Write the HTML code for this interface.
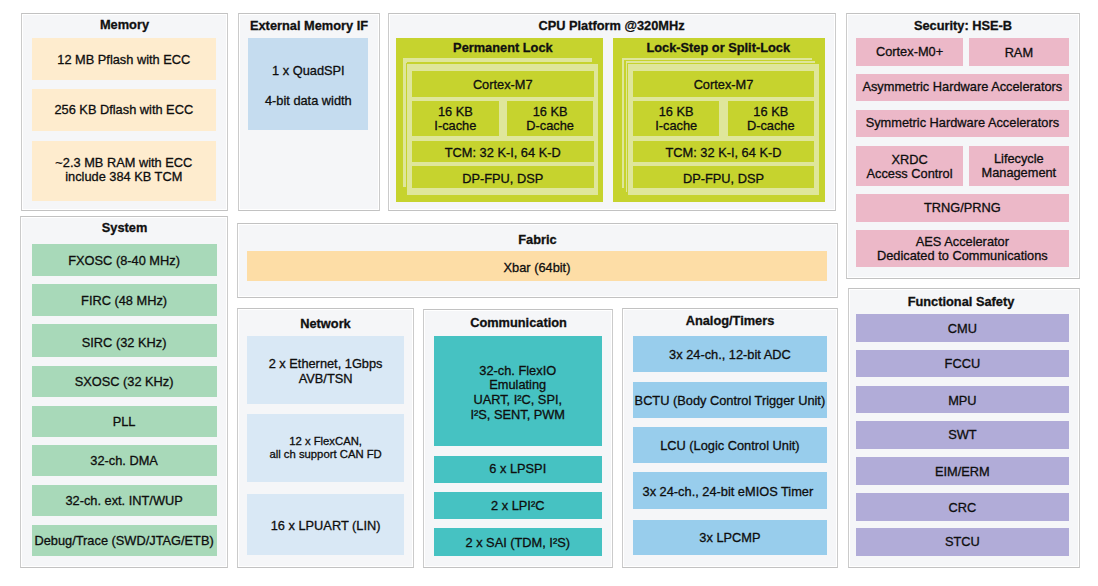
<!DOCTYPE html>
<html><head><meta charset="utf-8"><style>
html,body{margin:0;padding:0;background:#fff;}
body{width:1098px;height:586px;position:relative;overflow:hidden;font-family:"Liberation Sans",sans-serif;color:#0e0e0e;-webkit-text-stroke:0.3px #0e0e0e;}
.p{position:absolute;box-sizing:border-box;background:#f5f6f8;border:1px solid #c2c2c2;border-left-color:#cbcbcb;border-right-color:#cbcbcb;box-shadow:inset 0 0 0 1px #fff;}
.b{position:absolute;display:flex;align-items:center;justify-content:center;text-align:center;font-size:12.8px;line-height:15px;}
.t{position:absolute;text-align:center;font-weight:bold;color:#111;white-space:nowrap;}
.l{position:absolute;text-align:center;white-space:nowrap;}
.c{position:absolute;box-sizing:border-box;}
.c2{position:absolute;}
</style></head><body>
<div class="p" style="left:21px;top:13px;width:207px;height:198px"></div>
<div class="p" style="left:238px;top:13px;width:142px;height:198px"></div>
<div class="p" style="left:388px;top:13px;width:448px;height:198px"></div>
<div class="p" style="left:846px;top:13px;width:234px;height:266px"></div>
<div class="p" style="left:20px;top:216px;width:208px;height:352px"></div>
<div class="p" style="left:237px;top:223px;width:601px;height:75px"></div>
<div class="p" style="left:237px;top:308px;width:177px;height:260px"></div>
<div class="p" style="left:423px;top:309px;width:190px;height:259px"></div>
<div class="p" style="left:622px;top:308px;width:216px;height:260px"></div>
<div class="p" style="left:848px;top:288px;width:232px;height:280px"></div>
<div class="t" style="left:21.00px;top:15.30px;width:207px;height:20px;line-height:20px;font-size:12.8px">Memory</div>
<div class="b" style="left:31.9px;top:38.2px;width:183.80px;height:41.60px;background:#feecce"><span style="position:relative;top:0.60px;left:0.00px">12 MB Pflash with ECC</span></div>
<div class="b" style="left:31.9px;top:89.0px;width:183.80px;height:41.80px;background:#feecce"><span style="position:relative;top:-0.40px;left:0.00px">256 KB Dflash with ECC</span></div>
<div class="b" style="left:31.9px;top:141.3px;width:183.80px;height:60.00px;background:#feecce;line-height:14.4px"><span style="position:relative;top:-1.00px;left:0.00px">~2.3 MB RAM with ECC<br>include 384 KB TCM</span></div>
<div class="t" style="left:238.00px;top:16.30px;width:142px;height:20px;line-height:20px;font-size:12.8px">External Memory IF</div>
<div class="b" style="left:248.3px;top:38.2px;width:120.10px;height:92.30px;background:#c5dcef"><span style="position:relative;top:0.60px;left:0.00px"></span></div>
<div class="l" style="left:248.30px;top:60.50px;width:120.09999999999997px;height:20px;line-height:20px;font-size:12.8px">1 x QuadSPI</div>
<div class="l" style="left:248.30px;top:90.50px;width:120.09999999999997px;height:20px;line-height:20px;font-size:12.8px">4-bit data width</div>
<div class="t" style="left:388.00px;top:16.00px;width:447px;height:20px;line-height:20px;font-size:12.8px">CPU Platform @320MHz</div>
<div class="b" style="left:396.3px;top:38.2px;width:207.20px;height:163.60px;background:#c6d32e"><span style="position:relative;top:0.60px;left:0.00px"></span></div>
<div class="t" style="left:399.30px;top:37.50px;width:207.2px;height:20px;line-height:20px;font-size:12.8px">Permanent Lock</div>
<div class="c" style="left:403.2px;top:58.2px;width:189.00px;height:129.30px;border-top:4.0px solid #dfe69b;border-left:4.0px solid #dfe69b"></div>
<div class="b" style="left:613.2px;top:38.2px;width:212.10px;height:163.60px;background:#c6d32e"><span style="position:relative;top:0.60px;left:0.00px"></span></div>
<div class="t" style="left:612.20px;top:37.50px;width:212.0999999999999px;height:20px;line-height:20px;font-size:12.8px">Lock-Step or Split-Lock</div>
<div class="c" style="left:621.9px;top:57.9px;width:189.90px;height:130.00px;border-top:2.1px solid #dfe69b;border-left:2.1px solid #dfe69b"></div>
<div class="c" style="left:625.5px;top:61.1px;width:189.40px;height:130.90px;border-top:2.1px solid #dfe69b;border-left:2.1px solid #dfe69b"></div>
<div class="c2" style="left:406.4px;top:63.00px;width:192.70px;height:133.00px;background:#dfe69b;border:1.6px solid #c6d32e;box-sizing:border-box"></div>
<div class="b" style="left:412.0px;top:70.8px;width:181.50px;height:25.90px;background:#c6d32e"><span style="position:relative;top:0.60px;left:0.00px">Cortex-M7</span></div>
<div class="b" style="left:412.0px;top:101.2px;width:86.65px;height:34.40px;background:#c6d32e;line-height:14.4px"><span style="position:relative;top:1.00px;left:0.00px">16 KB<br>I-cache</span></div>
<div class="b" style="left:506.85px;top:101.2px;width:86.65px;height:34.40px;background:#c6d32e;line-height:14.4px"><span style="position:relative;top:1.00px;left:0.00px">16 KB<br>D-cache</span></div>
<div class="b" style="left:412.0px;top:140.5px;width:181.50px;height:21.50px;background:#c6d32e"><span style="position:relative;top:1.60px;left:0.00px">TCM: 32 K-I, 64 K-D</span></div>
<div class="b" style="left:412.0px;top:166.2px;width:181.50px;height:22.00px;background:#c6d32e"><span style="position:relative;top:1.60px;left:0.00px">DP-FPU, DSP</span></div>
<div class="c2" style="left:627.4px;top:63.00px;width:192.20px;height:133.00px;background:#dfe69b;border:1.6px solid #c6d32e;box-sizing:border-box"></div>
<div class="b" style="left:633.0px;top:70.8px;width:181.00px;height:25.90px;background:#c6d32e"><span style="position:relative;top:0.60px;left:0.00px">Cortex-M7</span></div>
<div class="b" style="left:633.0px;top:101.2px;width:86.40px;height:34.40px;background:#c6d32e;line-height:14.4px"><span style="position:relative;top:1.00px;left:0.00px">16 KB<br>I-cache</span></div>
<div class="b" style="left:727.6px;top:101.2px;width:86.40px;height:34.40px;background:#c6d32e;line-height:14.4px"><span style="position:relative;top:1.00px;left:0.00px">16 KB<br>D-cache</span></div>
<div class="b" style="left:633.0px;top:140.5px;width:181.00px;height:21.50px;background:#c6d32e"><span style="position:relative;top:1.60px;left:0.00px">TCM: 32 K-I, 64 K-D</span></div>
<div class="b" style="left:633.0px;top:166.2px;width:181.00px;height:22.00px;background:#c6d32e"><span style="position:relative;top:1.60px;left:0.00px">DP-FPU, DSP</span></div>
<div class="t" style="left:846.00px;top:16.10px;width:234px;height:20px;line-height:20px;font-size:12.8px">Security: HSE-B</div>
<div class="b" style="left:856.1px;top:38.1px;width:106.90px;height:27.80px;background:#ecb8c8"><span style="position:relative;top:-0.40px;left:0.00px">Cortex-M0+</span></div>
<div class="b" style="left:969.1px;top:38.1px;width:99.50px;height:27.80px;background:#ecb8c8"><span style="position:relative;top:0.60px;left:0.00px">RAM</span></div>
<div class="b" style="left:856.1px;top:73.7px;width:212.50px;height:27.60px;background:#ecb8c8"><span style="position:relative;top:-1.40px;left:0.00px">Asymmetric Hardware Accelerators</span></div>
<div class="b" style="left:856.1px;top:109.8px;width:212.50px;height:27.40px;background:#ecb8c8"><span style="position:relative;top:-1.40px;left:0.00px">Symmetric Hardware Accelerators</span></div>
<div class="b" style="left:856.1px;top:145.9px;width:106.90px;height:40.50px;background:#ecb8c8;line-height:14.4px"><span style="position:relative;top:1.00px;left:0.00px">XRDC<br>Access Control</span></div>
<div class="b" style="left:969.1px;top:145.9px;width:99.50px;height:40.50px;background:#ecb8c8;line-height:14.4px">Lifecycle<br>Management</div>
<div class="b" style="left:856.1px;top:194.2px;width:212.50px;height:27.60px;background:#ecb8c8"><span style="position:relative;top:-0.40px;left:0.00px">TRNG/PRNG</span></div>
<div class="b" style="left:856.1px;top:229.6px;width:212.50px;height:37.60px;background:#ecb8c8;line-height:14.4px"><span style="position:relative;top:1.00px;left:0.00px">AES Accelerator<br>Dedicated to Communications</span></div>
<div class="t" style="left:21.00px;top:218.20px;width:207px;height:20px;line-height:20px;font-size:12.8px">System</div>
<div class="b" style="left:31.5px;top:244.4px;width:185.20px;height:31.30px;background:#a8d9b9"><span style="position:relative;top:0.60px;left:0.00px">FXOSC (8-40 MHz)</span></div>
<div class="b" style="left:31.5px;top:284px;width:185.20px;height:31.50px;background:#a8d9b9"><span style="position:relative;top:0.60px;left:0.00px">FIRC (48 MHz)</span></div>
<div class="b" style="left:31.5px;top:324px;width:185.20px;height:33.00px;background:#a8d9b9"><span style="position:relative;top:1.60px;left:0.00px">SIRC (32 KHz)</span></div>
<div class="b" style="left:31.5px;top:366px;width:185.20px;height:31.00px;background:#a8d9b9"><span style="position:relative;top:-0.40px;left:0.00px">SXOSC (32 KHz)</span></div>
<div class="b" style="left:31.5px;top:406px;width:185.20px;height:31.20px;background:#a8d9b9"><span style="position:relative;top:-0.40px;left:0.00px">PLL</span></div>
<div class="b" style="left:31.5px;top:445.2px;width:185.20px;height:31.00px;background:#a8d9b9"><span style="position:relative;top:-0.40px;left:0.00px">32-ch. DMA</span></div>
<div class="b" style="left:31.5px;top:485px;width:185.20px;height:31.00px;background:#a8d9b9"><span style="position:relative;top:-0.40px;left:0.00px">32-ch. ext. INT/WUP</span></div>
<div class="b" style="left:31.5px;top:524.7px;width:185.20px;height:31.30px;background:#a8d9b9"><span style="position:relative;top:0.60px;left:0.00px">Debug/Trace (SWD/JTAG/ETB)</span></div>
<div class="t" style="left:237.00px;top:230.30px;width:601px;height:20px;line-height:20px;font-size:12.8px">Fabric</div>
<div class="b" style="left:246.9px;top:250.8px;width:580.20px;height:30.20px;background:#fddda6"><span style="position:relative;top:1.60px;left:0.00px">Xbar (64bit)</span></div>
<div class="t" style="left:237.00px;top:314.20px;width:177px;height:20px;line-height:20px;font-size:12.8px">Network</div>
<div class="b" style="left:246.9px;top:335.7px;width:157.40px;height:68.30px;background:#d9e8f5;line-height:14.4px"><span style="position:relative;top:2.00px;left:0.00px">2 x Ethernet, 1Gbps<br>AVB/TSN</span></div>
<div class="b" style="left:246.9px;top:413.7px;width:157.40px;height:68.80px;background:#d9e8f5;font-size:11.3px;line-height:13.3px">12 x FlexCAN,<br>all ch support CAN FD</div>
<div class="b" style="left:246.9px;top:494.3px;width:157.40px;height:60.40px;background:#d9e8f5"><span style="position:relative;top:0.60px;left:0.00px">16 x LPUART (LIN)</span></div>
<div class="t" style="left:424.00px;top:313.30px;width:189px;height:20px;line-height:20px;font-size:12.8px">Communication</div>
<div class="b" style="left:433.7px;top:336.1px;width:168.10px;height:109.80px;background:#46c2c2;line-height:14.6px"><span style="position:relative;top:2.00px;left:0.00px">32-ch. FlexIO<br>Emulating<br>UART, I&sup2;C, SPI,<br>I&sup2;S, SENT, PWM</span></div>
<div class="b" style="left:433.7px;top:455.5px;width:168.10px;height:27.30px;background:#46c2c2"><span style="position:relative;top:-0.40px;left:0.00px">6 x LPSPI</span></div>
<div class="b" style="left:433.7px;top:492.4px;width:168.10px;height:26.70px;background:#46c2c2"><span style="position:relative;top:-0.40px;left:0.00px">2 x LPI&sup2;C</span></div>
<div class="b" style="left:433.7px;top:528.4px;width:168.10px;height:27.30px;background:#46c2c2"><span style="position:relative;top:0.60px;left:0.00px">2 x SAI (TDM, I&sup2;S)</span></div>
<div class="t" style="left:622.00px;top:310.80px;width:216px;height:20px;line-height:20px;font-size:12.8px">Analog/Timers</div>
<div class="b" style="left:633px;top:336px;width:193.80px;height:36.10px;background:#98cdec"><span style="position:relative;top:0.60px;left:0.00px">3x 24-ch., 12-bit ADC</span></div>
<div class="b" style="left:633px;top:382.4px;width:193.80px;height:36.10px;background:#98cdec"><span style="position:relative;top:-0.40px;left:0.00px">BCTU (Body Control Trigger Unit)</span></div>
<div class="b" style="left:633px;top:427.0px;width:193.80px;height:36.10px;background:#98cdec"><span style="position:relative;top:0.60px;left:0.00px">LCU (Logic Control Unit)</span></div>
<div class="b" style="left:633px;top:472.4px;width:193.80px;height:36.30px;background:#98cdec"><span style="position:relative;top:0.60px;left:-2.00px">3x 24-ch., 24-bit eMIOS Timer</span></div>
<div class="b" style="left:633px;top:519.7px;width:193.80px;height:35.50px;background:#98cdec"><span style="position:relative;top:-0.40px;left:0.00px">3x LPCMP</span></div>
<div class="t" style="left:845.00px;top:292.00px;width:232px;height:20px;line-height:20px;font-size:12.8px">Functional Safety</div>
<div class="b" style="left:856.1px;top:314.4px;width:212.60px;height:28.10px;background:#b1acd8"><span style="position:relative;top:-0.40px;left:0.00px">CMU</span></div>
<div class="b" style="left:856.1px;top:349.8px;width:212.60px;height:27.60px;background:#b1acd8"><span style="position:relative;top:-0.40px;left:0.00px">FCCU</span></div>
<div class="b" style="left:856.1px;top:385.6px;width:212.60px;height:27.80px;background:#b1acd8"><span style="position:relative;top:0.60px;left:0.00px">MPU</span></div>
<div class="b" style="left:856.1px;top:421px;width:212.60px;height:27.60px;background:#b1acd8"><span style="position:relative;top:-0.40px;left:0.00px">SWT</span></div>
<div class="b" style="left:856.1px;top:456.9px;width:212.60px;height:27.70px;background:#b1acd8"><span style="position:relative;top:0.60px;left:0.00px">EIM/ERM</span></div>
<div class="b" style="left:856.1px;top:493px;width:212.60px;height:27.60px;background:#b1acd8"><span style="position:relative;top:0.60px;left:0.00px">CRC</span></div>
<div class="b" style="left:856.1px;top:527.9px;width:212.60px;height:27.90px;background:#b1acd8"><span style="position:relative;top:-0.40px;left:0.00px">STCU</span></div>
</body></html>
